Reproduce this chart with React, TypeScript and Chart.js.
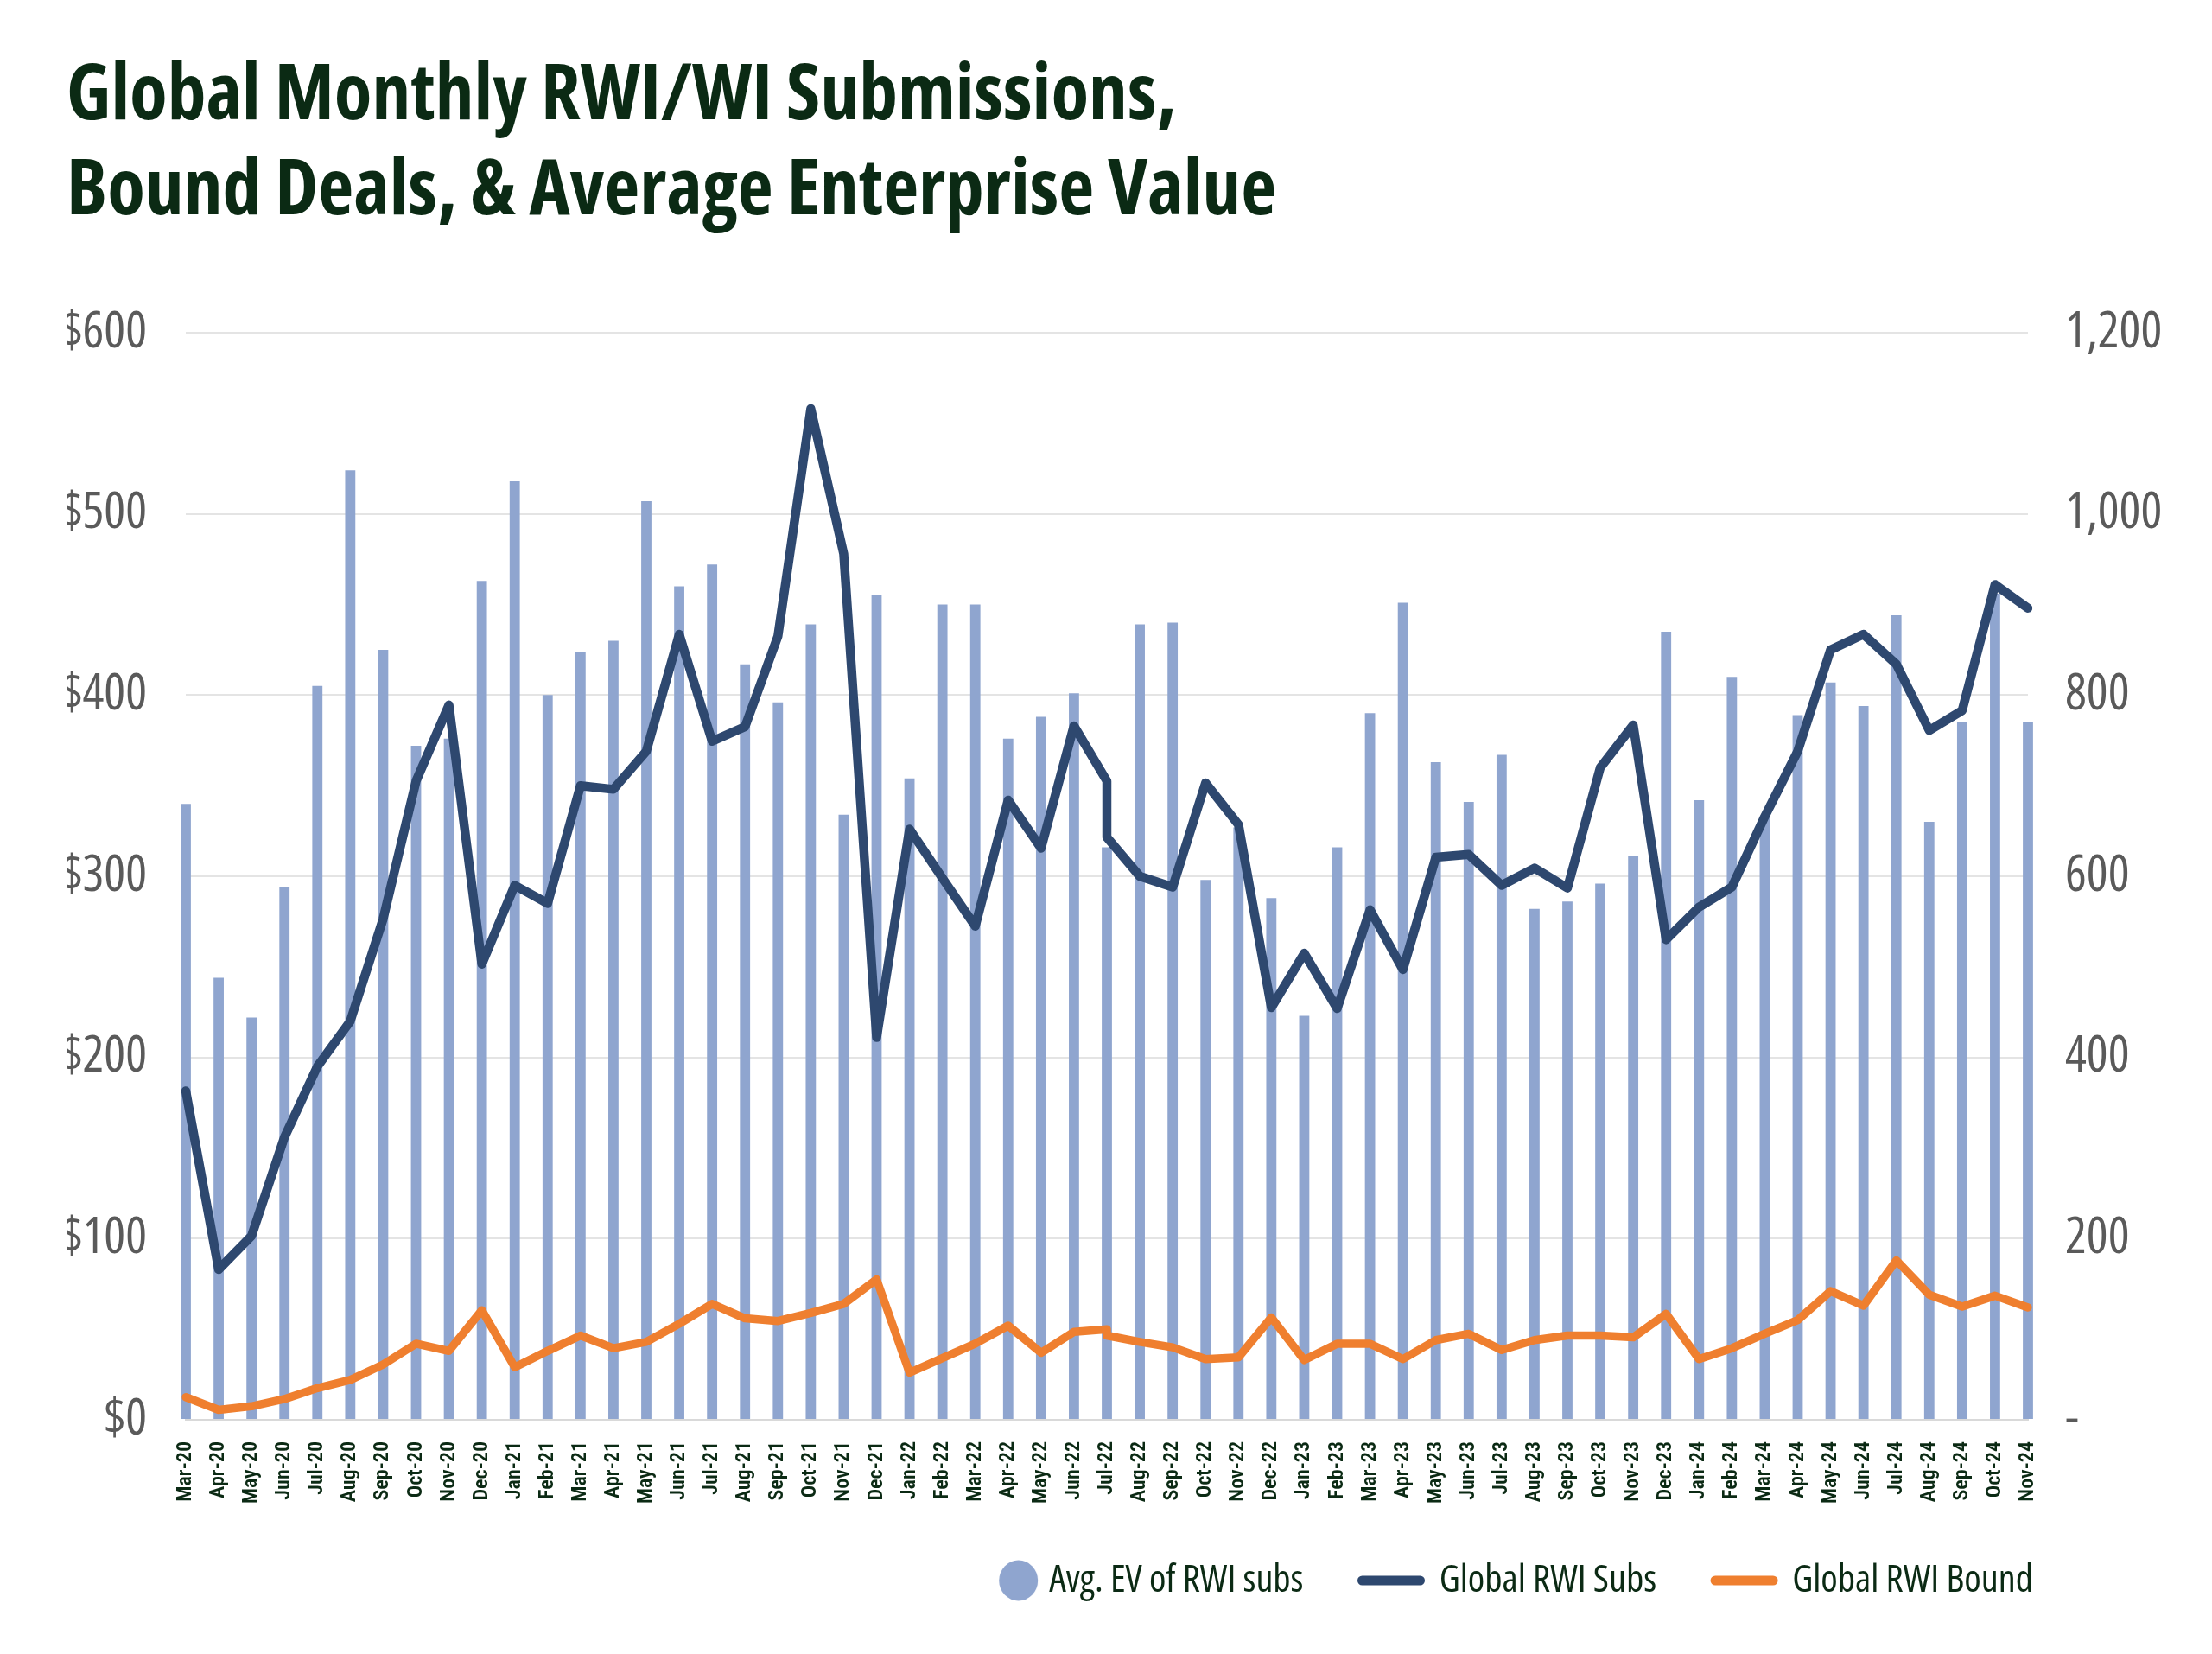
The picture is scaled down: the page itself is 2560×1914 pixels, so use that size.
import React, { useEffect, useRef } from 'react';
import { Chart, registerables } from 'chart.js';

Chart.register(...registerables);

const TITLE_LINES = ['Global Monthly RWI/WI Submissions,', 'Bound Deals, & Average Enterprise Value'];

const categories = [
  'Mar-20', 'Apr-20', 'May-20', 'Jun-20', 'Jul-20', 'Aug-20', 'Sep-20', 'Oct-20', 'Nov-20', 'Dec-20',
  'Jan-21', 'Feb-21', 'Mar-21', 'Apr-21', 'May-21', 'Jun-21', 'Jul-21', 'Aug-21', 'Sep-21', 'Oct-21', 'Nov-21', 'Dec-21',
  'Jan-22', 'Feb-22', 'Mar-22', 'Apr-22', 'May-22', 'Jun-22', 'Jul-22', 'Aug-22', 'Sep-22', 'Oct-22', 'Nov-22', 'Dec-22',
  'Jan-23', 'Feb-23', 'Mar-23', 'Apr-23', 'May-23', 'Jun-23', 'Jul-23', 'Aug-23', 'Sep-23', 'Oct-23', 'Nov-23', 'Dec-23',
  'Jan-24', 'Feb-24', 'Mar-24', 'Apr-24', 'May-24', 'Jun-24', 'Jul-24', 'Aug-24', 'Sep-24', 'Oct-24', 'Nov-24',
];

// Avg. EV of RWI subs ($M, left axis)
const avgEvOfRwiSubs = [
  340, 244, 222, 294, 405, 524, 425, 372, 376, 463,
  518, 400, 424, 430, 507, 460, 472, 417, 396, 439, 334, 455,
  354, 450, 450, 376, 388, 401, 316, 439, 440, 298, 327, 288,
  223, 316, 390, 451, 363, 341, 367, 282, 286, 296, 311, 435,
  342, 410, 333, 389, 407, 394, 444, 330, 385, 456, 385,
];

// The line series carry two readings for Jul-22 (the source line steps down there)
const lineMonths = [
  'Mar-20', 'Apr-20', 'May-20', 'Jun-20', 'Jul-20', 'Aug-20', 'Sep-20', 'Oct-20', 'Nov-20', 'Dec-20',
  'Jan-21', 'Feb-21', 'Mar-21', 'Apr-21', 'May-21', 'Jun-21', 'Jul-21', 'Aug-21', 'Sep-21', 'Oct-21', 'Nov-21', 'Dec-21',
  'Jan-22', 'Feb-22', 'Mar-22', 'Apr-22', 'May-22', 'Jun-22', 'Jul-22', 'Jul-22', 'Aug-22', 'Sep-22', 'Oct-22', 'Nov-22', 'Dec-22',
  'Jan-23', 'Feb-23', 'Mar-23', 'Apr-23', 'May-23', 'Jun-23', 'Jul-23', 'Aug-23', 'Sep-23', 'Oct-23', 'Nov-23', 'Dec-23',
  'Jan-24', 'Feb-24', 'Mar-24', 'Apr-24', 'May-24', 'Jun-24', 'Jul-24', 'Aug-24', 'Sep-24', 'Oct-24', 'Nov-24',
];

// Global RWI Subs (right axis)
const globalRwiSubs = [
  363, 166, 203, 312, 390, 440, 553, 705, 789, 503,
  590, 570, 700, 696, 738, 867, 749, 765, 865, 1116, 956, 422,
  652, 598, 545, 684, 631, 766, 705, 643, 600, 588, 703, 657, 455,
  515, 454, 563, 497, 621, 624, 590, 609, 587, 720, 767, 530,
  566, 588, 666, 738, 850, 867, 834, 761, 783, 922, 896,
];

// Global RWI Bound (right axis)
const globalRwiBound = [
  25, 11, 15, 23, 35, 44, 61, 84, 76, 121,
  58, 76, 93, 79, 86, 106, 128, 112, 109, 118, 128, 155,
  52, 68, 84, 104, 74, 97, 100, 93, 86, 80, 67, 69, 113,
  66, 84, 84, 67, 88, 95, 77, 88, 93, 93, 91, 117,
  67, 79, 95, 110, 142, 126, 176, 138, 125, 137, 124,
];

const leftAxis = { min: 0, max: 600, step: 100 };
const rightAxis = { min: 0, max: 1200, step: 200 };

const GREEN = '#0b2a14';
const BAR = '#8fa5cf';
const NAVY = '#2e486f';
const ORANGE = '#ef7f2f';
const GRAY = '#5a5a5a';

const FAMILIES = ['Noto Sans', 'Open Sans', 'Roboto', 'Inter', 'Lato', 'Liberation Sans Narrow',
  'DejaVu Sans Condensed', 'Liberation Sans', 'DejaVu Sans'];
const STRETCHES = ['', 'semi-condensed', 'condensed', 'extra-condensed', 'ultra-condensed'];

type Pick = { family: string; weight: string; size: number; str: string };

function isInstalled(ctx: CanvasRenderingContext2D, fam: string): boolean {
  const s = 'Global Monthly RWI 0123456789 abcdefghijklmnop';
  for (const base of ['monospace', 'serif']) {
    ctx.font = `72px ${base}`;
    const a = ctx.measureText(s).width;
    ctx.font = `72px "${fam}", ${base}`;
    const b = ctx.measureText(s).width;
    if (Math.abs(a - b) > 0.5) return true;
  }
  return false;
}

function pickFont(text: string, weight: string, targetW: number, targetCap: number): Pick {
  const ctx = document.createElement('canvas').getContext('2d')!;
  const fams = FAMILIES.filter((f) => isInstalled(ctx, f));
  if (!fams.length) fams.push('sans-serif');
  const target = targetW / targetCap;
  let best: Pick | null = null;
  let bestErr = Infinity;
  for (const fam of fams) {
    const famStr = fam === 'sans-serif' ? fam : `"${fam}", sans-serif`;
    for (const st of STRETCHES) {
      const w8 = `${st} ${weight}`.trim();
      ctx.font = `${w8} 100px ${famStr}`;
      const w = ctx.measureText(text).width;
      const cap = ctx.measureText('H').actualBoundingBoxAscent || 72;
      const err = Math.abs(Math.log((w / cap) / target));
      if (err < bestErr - 1e-4) {
        bestErr = err;
        const size = Math.round(100 * Math.sqrt((targetW / w) * (targetCap / cap)) * 10) / 10;
        best = { family: famStr, weight: w8, size, str: '' };
      }
    }
  }
  best!.str = `${best!.weight} ${best!.size}px ${best!.family}`;
  return best!;
}

export default function App() {
  const ref = useRef<HTMLCanvasElement>(null);

  useEffect(() => {
    const canvas = ref.current;
    if (!canvas) return;

    const titleF = pickFont(TITLE_LINES[0], 'bold', 1255, 66);
    const legendF = pickFont('Avg. EV of RWI subs', 'normal', 303, 31);
    const yF = pickFont('$600', 'normal', 102, 41);
    const xF = pickFont('Mar-20', '600', 70, 17);

    const mctx = document.createElement('canvas').getContext('2d')!;
    mctx.font = titleF.str;
    mctx.textBaseline = 'middle';
    const baseOff = mctx.measureText('H').actualBoundingBoxDescent || 0.35 * titleF.size;

    const H = 1898;
    const areaTop = 377;
    const areaBottom = 1635;
    const titleLH = 110;
    const padTop = Math.max(0, 130 - baseOff - titleLH / 2);
    const padBottom = areaTop - padTop - 2 * titleLH;
    const legendSize = legendF.size;
    const legendPad = 68;
    const legendCenter = 1821;
    const legendEnd = 2345;
    const legendTop = legendCenter - legendPad - legendSize / 2;
    const xAxisH = legendTop - areaBottom;
    const layoutBottom = Math.max(0, H - (legendTop + legendSize + legendPad + 10));
    const iconW = 67;

    // legend marker for the bar series: a filled circle sitting just before its text
    const off = legendSize / 2 - 2;
    const dot = document.createElement('canvas');
    dot.width = Math.ceil(2 * (off + 24));
    dot.height = 48;
    const g = dot.getContext('2d')!;
    g.fillStyle = BAR;
    g.beginPath();
    g.ellipse(dot.width / 2 + off, 24, 22.5, 23.5, 0, 0, Math.PI * 2);
    g.fill();

    const defaultLabels = Chart.defaults.plugins.legend.labels.generateLabels;

    const legendPlacer = {
      id: 'legendPlacer',
      afterLayout(ch: any) {
        const lg = ch.legend;
        if (!lg || !lg.lineWidths || !lg.lineWidths.length) return;
        const rowW = lg.lineWidths[0];
        lg.left = legendEnd - rowW;
        lg.right = legendEnd + 400;
      },
    };

    const chart = new Chart(canvas, {
      type: 'bar',
      data: {
        labels: categories,
        datasets: [
          {
            type: 'bar',
            label: 'Avg. EV of RWI subs',
            data: avgEvOfRwiSubs,
            backgroundColor: BAR,
            borderWidth: 0,
            barPercentage: 0.31,
            categoryPercentage: 1,
            yAxisID: 'y',
            order: 2,
            clip: false,
          } as any,
          {
            type: 'line',
            label: 'Global RWI Subs',
            data: lineMonths.map((m, i) => ({ x: m, y: globalRwiSubs[i] })),
            borderColor: NAVY,
            backgroundColor: NAVY,
            borderWidth: 10.5,
            pointRadius: 0,
            tension: 0,
            borderJoinStyle: 'round',
            borderCapStyle: 'round',
            yAxisID: 'y1',
            order: 0,
          } as any,
          {
            type: 'line',
            label: 'Global RWI Bound',
            data: lineMonths.map((m, i) => ({ x: m, y: globalRwiBound[i] })),
            borderColor: ORANGE,
            backgroundColor: ORANGE,
            borderWidth: 9.5,
            pointRadius: 0,
            tension: 0,
            borderJoinStyle: 'round',
            borderCapStyle: 'round',
            yAxisID: 'y1',
            order: 1,
          } as any,
        ],
      },
      plugins: [legendPlacer],
      options: {
        animation: false,
        responsive: true,
        maintainAspectRatio: false,
        layout: { padding: { left: 69, right: 8, top: 0, bottom: layoutBottom } },
        plugins: {
          tooltip: { enabled: false },
          title: {
            display: true,
            text: TITLE_LINES,
            align: 'start',
            color: GREEN,
            font: { family: titleF.family, weight: titleF.weight, size: titleF.size, lineHeight: `${titleLH}px` } as any,
            padding: { top: padTop, bottom: padBottom },
          },
          legend: {
            display: true,
            position: 'bottom',
            align: 'start',
            labels: {
              usePointStyle: true,
              pointStyleWidth: iconW,
              boxHeight: legendSize,
              padding: legendPad,
              color: GREEN,
              font: { family: legendF.family, weight: legendF.weight, size: legendSize } as any,
              sort: (a: any, b: any) => a.datasetIndex - b.datasetIndex,
              generateLabels: (ch: any) => {
                const items = defaultLabels(ch);
                return items.map((it: any) =>
                  it.datasetIndex === 0
                    ? { ...it, pointStyle: dot, lineWidth: 0 }
                    : { ...it, pointStyle: 'line', lineWidth: 11, lineCap: 'round' }
                );
              },
            },
          } as any,
        },
        scales: {
          x: {
            type: 'category',
            offset: false,
            grid: { display: false, drawTicks: false },
            border: { display: true, color: '#d9d9d9', width: 2 },
            ticks: {
              autoSkip: false,
              minRotation: 90,
              maxRotation: 90,
              padding: 25,
              color: GREEN,
              font: { family: xF.family, weight: xF.weight, size: xF.size } as any,
            },
            afterFit: (s: any) => { s.height = xAxisH; },
          },
          y: {
            type: 'linear',
            position: 'left',
            min: leftAxis.min,
            max: leftAxis.max,
            grid: { color: '#e4e4e4', lineWidth: 2, drawTicks: false },
            border: { display: false },
            ticks: {
              stepSize: leftAxis.step,
              padding: 45,
              color: GRAY,
              font: { family: yF.family, weight: yF.weight, size: yF.size } as any,
              callback: (v: any) => '$' + v,
            },
            afterFit: (s: any) => { s.width = 138; },
          },
          y1: {
            type: 'linear',
            position: 'right',
            min: rightAxis.min,
            max: rightAxis.max,
            grid: { display: false, drawOnChartArea: false, drawTicks: false },
            border: { display: false },
            ticks: {
              stepSize: rightAxis.step,
              padding: 43,
              color: GRAY,
              font: { family: yF.family, weight: yF.weight, size: yF.size } as any,
              callback: (v: any) => (Number(v) === 0 ? '-' : Number(v).toLocaleString('en-US')),
            },
            afterFit: (s: any) => { s.width = 197; },
          },
        },
      } as any,
    });

    return () => chart.destroy();
  }, []);

  return (
    <div style={{ position: 'relative', width: '100%', height: 1898 }}>
      <canvas ref={ref} />
    </div>
  );
}
